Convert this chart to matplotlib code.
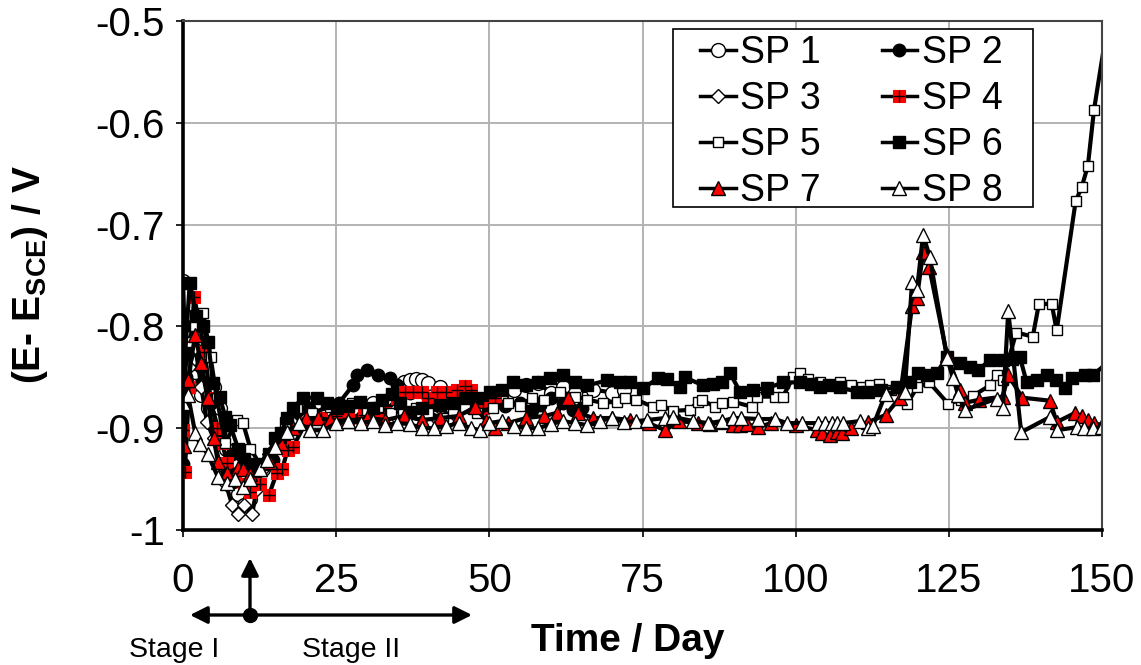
import matplotlib
matplotlib.use("Agg")
import matplotlib.pyplot as plt
from matplotlib.lines import Line2D
from matplotlib.patches import Rectangle

plt.rcParams['font.family'] = ['Liberation Sans', 'DejaVu Sans']
plt.rcParams['mathtext.fontset'] = 'custom'
plt.rcParams['mathtext.rm'] = 'Liberation Sans'
plt.rcParams['mathtext.bf'] = 'Liberation Sans:bold'

# ---- measured open-circuit potentials (V vs SCE) ----
sp1_day = [0, 0.5, 1, 2, 3, 4, 5, 6, 7, 8, 9, 10, 11, 12, 13, 14, 16, 18, 20, 22, 25, 28, 31,
           34, 36, 37, 38, 39, 40, 42, 44, 46, 48, 50, 52, 54, 56, 58, 60, 62, 64, 67, 70, 72]
sp1_e = [-0.755, -0.85, -0.86, -0.845, -0.867, -0.88, -0.86, -0.88, -0.92, -0.95, -0.965, -0.975,
         -0.97, -0.955, -0.94, -0.93, -0.91, -0.89, -0.885, -0.88, -0.885, -0.88, -0.875,
         -0.87, -0.855, -0.853, -0.852, -0.853, -0.856, -0.86, -0.865, -0.87, -0.875, -0.87,
         -0.865, -0.862, -0.858, -0.856, -0.865, -0.86, -0.865, -0.862, -0.865, -0.862]

sp2_day = [0, 0.5, 1.5, 3, 4.5, 6, 8, 10, 12, 14.7, 16.5, 18.5, 20.5, 23, 25.5, 27.7, 28.4, 30,
           31.8, 33.8, 34.9, 37, 40, 42.5, 45, 47.5, 50, 52.5, 55, 57, 58.3, 60, 62, 63.7, 65.1]
sp2_e = [-0.935, -0.85, -0.80, -0.84, -0.875, -0.905, -0.925, -0.935, -0.94, -0.931, -0.91,
         -0.89, -0.88, -0.885, -0.875, -0.858, -0.848, -0.843, -0.848, -0.851, -0.858, -0.865,
         -0.87, -0.875, -0.872, -0.875, -0.87, -0.878, -0.875, -0.882, -0.877, -0.87, -0.875,
         -0.882, -0.88]

sp3_day = [0, 1, 2, 3, 3.9, 5, 6, 7, 8, 9, 10, 11.3, 12, 13, 14, 16, 18, 20, 23, 26, 29, 32,
           35, 38, 41, 44]
sp3_e = [-0.87, -0.84, -0.82, -0.86, -0.894, -0.91, -0.935, -0.955, -0.975, -0.984, -0.975,
         -0.984, -0.96, -0.94, -0.925, -0.905, -0.895, -0.89, -0.885, -0.89, -0.888, -0.886,
         -0.89, -0.885, -0.888, -0.885]

sp4_day = [0, 0.3, 1, 1.8, 2.6, 3.5, 4.5, 5.5, 6.4, 7.2, 8.5, 10, 11, 12.5, 14, 15.3, 16.2,
           17.1, 18, 20, 21, 22.5, 25, 27, 29.5, 31, 33, 35, 36.2, 37.5, 39, 40, 41.5, 43, 44.7,
           46, 47, 49, 51]
sp4_e = [-0.902, -0.943, -0.86, -0.771, -0.794, -0.825, -0.87, -0.90, -0.915, -0.934, -0.945,
         -0.955, -0.963, -0.955, -0.966, -0.944, -0.94, -0.921, -0.918, -0.895, -0.89, -0.89,
         -0.888, -0.89, -0.887, -0.89, -0.885, -0.87, -0.864, -0.864, -0.864, -0.87, -0.864,
         -0.864, -0.862, -0.859, -0.862, -0.88, -0.87]

sp5_day = [0, 0.8, 2, 3.3, 4.5, 5.5, 6.9, 8.8, 9.8, 11, 12.5, 14, 16.6, 18.6, 21, 24, 27.6,
           30, 31.8, 34, 35.9, 38, 40, 42.4, 44, 46, 48, 50.6, 53, 55, 57, 59, 61.5, 64, 66,
           68.5, 70.8, 72.1, 74, 76.7, 78, 80, 82.7, 84, 84.7, 86.8, 88, 89.8, 92.9, 93.7,
           96.6, 97.9, 99.6, 100.7, 102, 104, 107.2, 109, 110.8, 112.1, 113.6, 115.5, 116.5,
           118.2, 119.8, 121.8, 124.9, 127, 129, 131.7, 132.8, 133.8, 136, 138.7, 139.7, 141.8,
           142.6, 145.7, 146.7, 147.7, 148.7, 151]
sp5_e = [-0.87, -0.815, -0.80, -0.787, -0.83, -0.87, -0.915, -0.892, -0.895, -0.92, -0.935,
         -0.925, -0.894, -0.88, -0.885, -0.879, -0.875, -0.882, -0.879, -0.885, -0.884, -0.88,
         -0.885, -0.89, -0.885, -0.88, -0.885, -0.88, -0.875, -0.878, -0.87, -0.872, -0.864,
         -0.869, -0.872, -0.875, -0.874, -0.87, -0.872, -0.879, -0.877, -0.883, -0.882, -0.874,
         -0.872, -0.879, -0.875, -0.874, -0.879, -0.869, -0.869, -0.869, -0.85, -0.846,
         -0.852, -0.855, -0.855, -0.858, -0.86, -0.858, -0.857, -0.862, -0.86, -0.876, -0.86,
         -0.855, -0.876, -0.872, -0.868, -0.858, -0.848, -0.853, -0.806, -0.810, -0.778,
         -0.778, -0.804, -0.677, -0.663, -0.642, -0.587, -0.50]

sp6_day = [0, 1.1, 2.2, 3.2, 4.1, 4.9, 6, 6.9, 7.7, 9, 10, 11, 12, 13, 14, 15, 16, 17, 18,
           19.6, 21.9, 23.5, 25.1, 27, 28.9, 31, 32.5, 34.1, 35.5, 37, 39, 42, 44, 46, 48,
           50.1, 52, 53.9, 56, 58, 59.9, 62, 64, 66, 69.2, 71.3, 73, 75.1, 77.5, 79, 81.1,
           81.9, 84.9, 86.5, 88, 89.3, 90.9, 93, 95.3, 97.9, 100.7, 102.5, 104, 105.5, 107.2,
           110, 111.8, 114, 116.5, 118.7, 120, 121.5, 123, 124.7, 126.8, 128.5, 129.8, 131.7,
           133.8, 135.3, 136.6, 137.7, 139.4, 141, 142.5, 144, 145.1, 147.2, 148.5, 151]
sp6_e = [-0.86, -0.757, -0.79, -0.80, -0.815, -0.856, -0.869, -0.889, -0.897, -0.92, -0.93,
         -0.935, -0.94, -0.935, -0.925, -0.91, -0.905, -0.89, -0.88, -0.870, -0.870, -0.875,
         -0.88, -0.878, -0.874, -0.88, -0.872, -0.866, -0.875, -0.884, -0.88, -0.877, -0.875,
         -0.87, -0.87, -0.864, -0.862, -0.855, -0.858, -0.855, -0.851, -0.848, -0.855, -0.858,
         -0.853, -0.855, -0.855, -0.861, -0.851, -0.852, -0.860, -0.850, -0.858, -0.857,
         -0.855, -0.846, -0.864, -0.862, -0.861, -0.855, -0.855, -0.857, -0.860, -0.858,
         -0.860, -0.864, -0.864, -0.862, -0.860, -0.855, -0.846, -0.848, -0.846, -0.830,
         -0.836, -0.840, -0.843, -0.833, -0.833, -0.832, -0.83, -0.855, -0.853, -0.848,
         -0.853, -0.861, -0.851, -0.848, -0.848, -0.835]

sp7_day = [0.2, 0.8, 2, 2.9, 4, 5, 5.7, 7.2, 9, 9.8, 11, 12.5, 14.2, 16, 18, 20, 22, 24, 27,
           30, 33, 36, 39, 42, 45, 47.7, 49.5, 51, 53, 56, 59, 61, 62.8, 64.5, 67, 70, 73, 76,
           78.7, 81, 84, 86, 88, 89.8, 90.9, 92, 93.9, 96, 100, 103.5, 104.3, 105.6, 106.7,
           107.5, 109, 111.8, 114.7, 117, 119, 119.8, 120.8, 121.8, 124.7, 126.8, 127.6, 130,
           133.8, 134.7, 137, 141.5, 142.6, 145.6, 146.7, 147.7, 148.7, 150]
sp7_e = [-0.917, -0.853, -0.808, -0.836, -0.87, -0.91, -0.933, -0.944, -0.939, -0.94, -0.945,
         -0.94, -0.933, -0.915, -0.90, -0.89, -0.89, -0.892, -0.893, -0.89, -0.892, -0.888,
         -0.892, -0.89, -0.888, -0.879, -0.893, -0.9, -0.895, -0.89, -0.888, -0.885, -0.87,
         -0.885, -0.89, -0.89, -0.892, -0.895, -0.902, -0.893, -0.895, -0.896, -0.894,
         -0.897, -0.897, -0.896, -0.899, -0.895, -0.897, -0.902, -0.905, -0.907, -0.904,
         -0.905, -0.9, -0.894, -0.887, -0.87, -0.78, -0.772, -0.727, -0.742, -0.828, -0.862,
         -0.875, -0.872, -0.869, -0.848, -0.87, -0.873, -0.894, -0.885, -0.888, -0.892,
         -0.895, -0.897]

sp8_day = [0, 0.8, 2, 2.8, 4, 5.7, 7.2, 8.5, 9.8, 11, 12.5, 13.7, 15, 17, 19, 20.7, 22.9, 25,
           27, 29, 31, 33, 35, 37, 39, 41, 43, 45, 47, 48.5, 50, 52, 54, 56, 58, 60, 62, 64,
           66, 68, 70, 72, 74, 75.7, 78.7, 80, 83.3, 85.7, 88, 89.8, 91, 93.9, 96.6, 98.6, 101,
           103.6, 104.8, 105.9, 106.8, 107.7, 110.5, 111.8, 112.6, 114.7, 117.8, 119, 119.8,
           120.8, 121.9, 124.7, 125.7, 126.5, 127.6, 132.8, 133.8, 134.7, 136.8, 141.5, 142.6,
           145.9, 147, 148.5, 150]
sp8_e = [-0.875, -0.867, -0.905, -0.916, -0.925, -0.948, -0.954, -0.95, -0.958, -0.95, -0.94,
         -0.931, -0.918, -0.904, -0.895, -0.902, -0.902, -0.895, -0.893, -0.895, -0.893,
         -0.897, -0.895, -0.896, -0.9, -0.9, -0.898, -0.895, -0.9, -0.902, -0.895, -0.893,
         -0.898, -0.9, -0.9, -0.896, -0.893, -0.895, -0.897, -0.893, -0.89, -0.894, -0.893,
         -0.892, -0.89, -0.889, -0.893, -0.895, -0.893, -0.89, -0.89, -0.891, -0.891, -0.895,
         -0.895, -0.895, -0.895, -0.895, -0.895, -0.895, -0.893, -0.9, -0.898, -0.866,
         -0.864, -0.756, -0.764, -0.71, -0.732, -0.831, -0.851, -0.867, -0.882, -0.871, -0.88,
         -0.785, -0.904, -0.889, -0.902, -0.899, -0.9, -0.9, -0.899]

x_ticks = [0, 25, 50, 75, 100, 125, 150]
y_ticks = [-1.0, -0.9, -0.8, -0.7, -0.6, -0.5]
y_tick_labels = ['-1', '-0.9', '-0.8', '-0.7', '-0.6', '-0.5']

W, H = 1141, 665
fig = plt.figure(figsize=(W / 100, H / 100), dpi=100)
ax = fig.add_axes([183 / W, 1 - 530 / H, (1102 - 183) / W, (530 - 21) / H])

LW = 3.0
common = dict(color='black', lw=LW, markeredgecolor='black', markeredgewidth=1.0)

h1, = ax.plot(sp1_day, sp1_e, marker='o', ms=10, mfc='white', **common)
h2, = ax.plot(sp2_day, sp2_e, marker='o', ms=9, mfc='black', **common)
h3, = ax.plot(sp3_day, sp3_e, marker='D', ms=7, mfc='white', **common)
h4, = ax.plot(sp4_day, sp4_e, marker='s', ms=8.5, mfc='red', color='black', lw=LW,
              markeredgecolor='red', markeredgewidth=0.8)
h4x, = ax.plot(sp4_day, sp4_e, ls='none', marker='+', ms=8.5, color='black',
               markeredgewidth=1.0)
h5, = ax.plot(sp5_day, sp5_e, marker='s', ms=7.5, mfc='white', **common)
h6, = ax.plot(sp6_day, sp6_e, marker='s', ms=8.5, mfc='black', **common)
h7, = ax.plot(sp7_day, sp7_e, marker='^', ms=10, mfc='red', **common)
h8, = ax.plot(sp8_day, sp8_e, marker='^', ms=10, mfc='white', **common)

ax.set_xlim(0, 150)
ax.set_ylim(-1.0, -0.5)
ax.set_xticks(x_ticks)
ax.set_xticklabels([str(t) for t in x_ticks])
ax.set_yticks(y_ticks)
ax.set_yticklabels(y_tick_labels)
ax.tick_params(axis='both', direction='out', length=5, width=1.2, labelsize=29,
               color='black')
ax.tick_params(axis='x', pad=18)
ax.tick_params(axis='y', pad=8)
ax.grid(True, color='#b3b3b3', lw=1.4)
ax.set_axisbelow(True)
for side in ('left', 'bottom'):
    ax.spines[side].set_linewidth(2.6)
    ax.spines[side].set_color('black')
for side in ('top', 'right'):
    ax.spines[side].set_linewidth(1.5)
    ax.spines[side].set_color('#444444')

# legend laid out row by row: SP1 SP2 / SP3 SP4 / SP5 SP6 / SP7 SP8
handles = [h1, h3, h5, h7, h2, (h4, h4x), h6, h8]
labels = ['SP 1', 'SP 3', 'SP 5', 'SP 7', 'SP 2', 'SP 4', 'SP 6', 'SP 8']
leg = fig.legend(handles, labels, ncol=2, loc='upper left',
                 bbox_to_anchor=(700 / W, 1 - 35 / H), bbox_transform=fig.transFigure,
                 fontsize=27, frameon=False, handlelength=0.95, handletextpad=0.12,
                 columnspacing=1.62, labelspacing=0.27, borderpad=0.0, borderaxespad=0.0)
for ln in leg.get_lines():
    ln.set_linewidth(2.5)
fig.add_artist(Rectangle((673 / W, 1 - 207 / H), (1033 - 673) / W, (207 - 29) / H,
                         transform=fig.transFigure, facecolor='white', edgecolor='black',
                         lw=1.2, zorder=4))
leg.set_zorder(5)

fig.text(628 / W, 1 - 651 / H, 'Time / Day', ha='center', va='baseline',
         fontsize=28, fontweight='bold')
fig.text(30 / W, 1 - 275 / H, r'(E- E$_{\mathbf{SCE}}$) / V', ha='center',
         va='center', rotation=90, fontsize=28, fontweight='bold')

# stage markers below the time axis
y_arrow = 1 - 615 / H
x_split = 250 / W
ax.annotate('', xy=(190 / W, y_arrow), xytext=(472 / W, y_arrow),
            xycoords='figure fraction', textcoords='figure fraction',
            arrowprops=dict(arrowstyle='<|-|>', lw=2.4, color='black',
                            mutation_scale=26, shrinkA=0, shrinkB=0),
            annotation_clip=False)
ax.annotate('', xy=(x_split, 1 - 558 / H), xytext=(x_split, y_arrow),
            xycoords='figure fraction', textcoords='figure fraction',
            arrowprops=dict(arrowstyle='-|>', lw=2.4, color='black',
                            mutation_scale=26, shrinkA=0, shrinkB=0),
            annotation_clip=False)
fig.add_artist(Line2D([x_split], [y_arrow], transform=fig.transFigure, marker='o',
                      ms=10, color='black', ls='none'))
fig.text(174 / W, 1 - 657 / H, 'Stage I', ha='center', va='baseline', fontsize=20.5)
fig.text(351 / W, 1 - 657 / H, 'Stage II', ha='center', va='baseline', fontsize=20.5)

fig.savefig('out.png', dpi=100)
